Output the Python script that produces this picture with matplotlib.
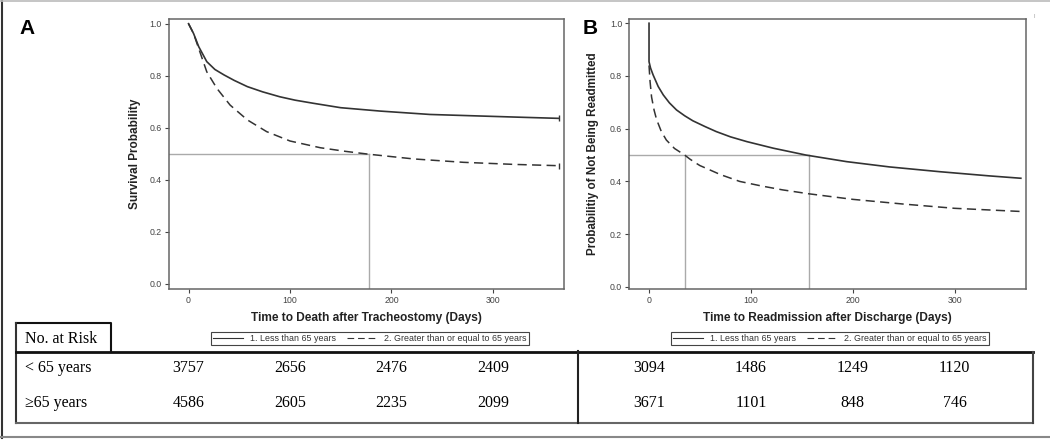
import matplotlib
matplotlib.use("Agg")
import matplotlib.pyplot as plt
import matplotlib.transforms as mtransforms

plt.rcParams['font.family'] = ['Liberation Sans', 'DejaVu Sans']

# panel A: survival after tracheostomy
a_days_young = [0, 5, 10, 18, 26, 35, 45, 58, 73, 90, 105, 123, 150, 189, 238, 288, 330, 365]
a_surv_young = [1.0, 0.962, 0.912, 0.854, 0.824, 0.803, 0.782, 0.758, 0.738, 0.719, 0.706, 0.694, 0.677,
                0.664, 0.651, 0.645, 0.64, 0.636]
a_days_old = [0, 5, 10, 18, 28, 41, 58, 77, 100, 130, 155, 178, 222, 271, 321, 365]
a_surv_old = [1.0, 0.962, 0.905, 0.815, 0.751, 0.687, 0.63, 0.585, 0.549, 0.523, 0.509, 0.498, 0.48,
              0.467, 0.459, 0.454]
a_median = [178]

# panel B: readmission after discharge
b_days_young = [0, 0, 1.5, 4, 9, 14, 20, 27, 35, 43, 55, 66, 80, 96, 122, 154, 194, 236, 285, 334, 365]
b_surv_young = [1.0, 0.854, 0.83, 0.804, 0.76, 0.728, 0.698, 0.671, 0.649, 0.63, 0.608, 0.589, 0.569,
                0.551, 0.526, 0.50, 0.475, 0.455, 0.437, 0.421, 0.412]
b_days_old = [0, 1, 2.5, 5, 7.4, 12, 17, 25, 35, 40, 45, 50, 56, 70, 89, 110, 131, 157, 200, 250, 300, 365]
b_surv_old = [0.84, 0.78, 0.72, 0.67, 0.635, 0.59, 0.557, 0.525, 0.50, 0.485, 0.472, 0.46, 0.45, 0.426,
              0.40, 0.383, 0.368, 0.353, 0.332, 0.314, 0.298, 0.286]
b_median = [35, 157]

risk_times = [0, 100, 200, 300]
a_risk_young = [3757, 2656, 2476, 2409]
a_risk_old = [4586, 2605, 2235, 2099]
b_risk_young = [3094, 1486, 1249, 1120]
b_risk_old = [3671, 1101, 848, 746]

labels = ["1. Less than 65 years", "2. Greater than or equal to 65 years"]

fig = plt.figure(figsize=(10.5, 4.4), dpi=100)
axA = fig.add_axes([0.1607, 0.3432, 0.3764, 0.6136])
axB = fig.add_axes([0.5992, 0.3432, 0.3779, 0.6136])

curve_col = "#333333"
ref_col = "#aaaaaa"
dash = (0, (6, 3.5))


def style_axes(ax, ylim):
    ax.set_xlim(-19.5, 370)
    ax.set_ylim(*ylim)
    ax.set_xticks([0, 100, 200, 300])
    ax.set_yticks([0, 0.2, 0.4, 0.6, 0.8, 1.0])
    ax.set_yticklabels(["0.0", "0.2", "0.4", "0.6", "0.8", "1.0"])
    ax.tick_params(labelsize=6.3, colors="#444444", length=3, width=0.8, pad=2)
    for s in ax.spines.values():
        s.set_color("#666666")
        s.set_linewidth(1.1)


# panel A
axA.plot(a_days_young, a_surv_young, color=curve_col, lw=1.2, label=labels[0],
         marker="|", markevery=[-1], ms=5)
axA.plot(a_days_old, a_surv_old, color=curve_col, lw=1.1, ls=dash, label=labels[1],
         marker="|", markevery=[-1], ms=5)
for m in a_median:
    axA.plot([-19.5, m], [0.5, 0.5], color=ref_col, lw=1, zorder=1)
    axA.plot([m, m], [-0.02, 0.5], color=ref_col, lw=1, zorder=1)
style_axes(axA, (-0.02, 1.018))
axA.text(-0.085, 0.5, "Survival Probability", transform=axA.transAxes, rotation=90,
         ha="center", va="center", fontsize=8.5, fontweight="bold", color="#222222")
axA.text(0.5, -0.107, "Time to Death after Tracheostomy (Days)", transform=axA.transAxes,
         ha="center", va="center", fontsize=8.6, fontweight="bold", color="#222222")

# panel B
axB.plot(b_days_young, b_surv_young, color=curve_col, lw=1.2, label=labels[0])
axB.plot(b_days_old, b_surv_old, color=curve_col, lw=1.1, ls=dash, label=labels[1])
axB.plot([-19.5, max(b_median)], [0.5, 0.5], color=ref_col, lw=1, zorder=1)
for m in b_median:
    axB.plot([m, m], [-0.01, 0.5], color=ref_col, lw=1, zorder=1)
style_axes(axB, (-0.008, 1.016))
axB.text(-0.09, 0.5, "Probabilitiy of Not Being Readmitted", transform=axB.transAxes, rotation=90,
         ha="center", va="center", fontsize=8.4, fontweight="bold", color="#222222")
axB.text(0.5, -0.107, "Time to Readmission after Discharge (Days)", transform=axB.transAxes,
         ha="center", va="center", fontsize=8.6, fontweight="bold", color="#222222")

for ax, cx in [(axA, 0.509), (axB, 0.506)]:
    leg = ax.legend(loc="center", bbox_to_anchor=(cx, -0.183), ncol=2, fancybox=False,
                    prop={"family": ["Liberation Sans Narrow", "Liberation Sans"], "size": 6.4},
                    handlelength=3.4, handletextpad=0.8, columnspacing=1.2,
                    borderpad=0.2, framealpha=1)
    leg.get_frame().set_edgecolor("#444444")
    leg.get_frame().set_linewidth(0.8)
    for t in leg.get_texts():
        t.set_color("#333333")
    for h in leg.get_lines():
        h.set_marker("")
        h.set_linewidth(0.8)

# overlay in pixel coordinates for panel letters and risk table
ov = fig.add_axes([0, 0, 1, 1], zorder=-1)
ov.set_xlim(0, 1050)
ov.set_ylim(440, 0)
ov.axis("off")

ov.text(27, 28, "A", fontsize=15, fontweight="bold", ha="center", va="center")
ov.text(590, 28, "B", fontsize=15, fontweight="bold", ha="center", va="center")
ov.text(1034, 17, "I", fontsize=4, color="#999999", ha="center", va="center")

# outer frame
ov.plot([2, 2], [0, 438], color="#333333", lw=1.5)
ov.plot([0, 1050], [1, 1], color="#bbbbbb", lw=1.2)
ov.plot([0, 1050], [437, 437], color="#888888", lw=1.5)

# risk table
ov.plot([16, 111, 111], [323, 323, 352], color="#111111", lw=1.5)
ov.plot([16, 16], [323, 423], color="#333333", lw=1.5)
ov.plot([16, 1033], [352, 352], color="#111111", lw=2)
ov.plot([16, 1033], [423, 423], color="#666666", lw=1.5)
ov.plot([1033, 1033], [352, 423], color="#444444", lw=1.5)
ov.plot([578, 578], [351, 423], color="#222222", lw=1.5)

serif = ["Liberation Serif", "DejaVu Serif"]
ov.text(25, 339, "No. at Risk", family=serif, fontsize=11.5, va="center", ha="left")
ov.text(25, 368, "< 65 years", family=serif, fontsize=11.5, va="center", ha="left")
ov.text(25, 403, "≥65 years", family=serif, fontsize=11.5, va="center", ha="left")

for ax, young, old in [(axA, a_risk_young, a_risk_old), (axB, b_risk_young, b_risk_old)]:
    tr = mtransforms.blended_transform_factory(ax.transData, ov.transData)
    for t, y1, y2 in zip(risk_times, young, old):
        ov.text(t, 368, str(y1), transform=tr, family=serif, fontsize=11.5, ha="center", va="center")
        ov.text(t, 403, str(y2), transform=tr, family=serif, fontsize=11.5, ha="center", va="center")

fig.savefig("out.png", dpi=100)
